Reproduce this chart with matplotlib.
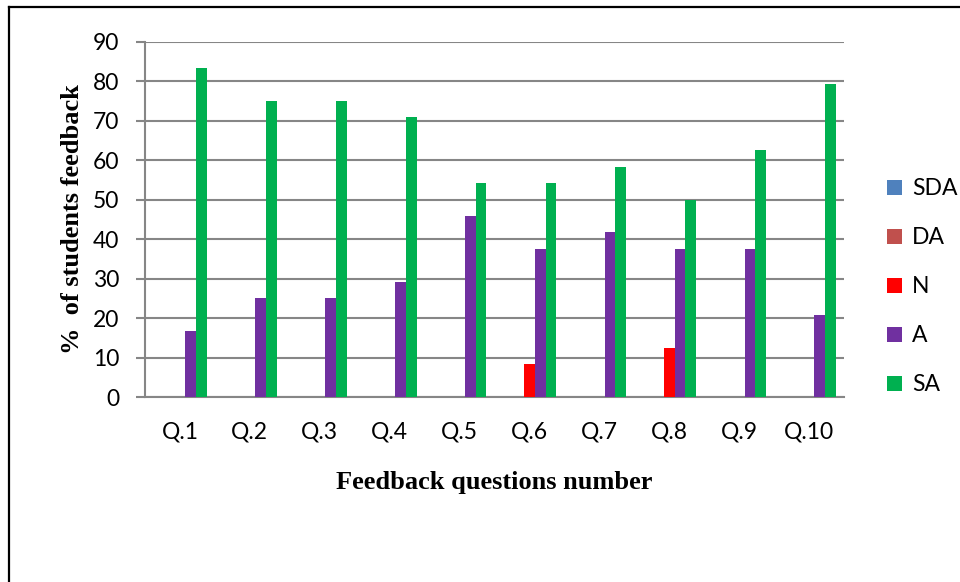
import numpy as np
import matplotlib.pyplot as plt
from matplotlib.lines import Line2D

questions = ['Q.1', 'Q.2', 'Q.3', 'Q.4', 'Q.5', 'Q.6', 'Q.7', 'Q.8', 'Q.9', 'Q.10']
series_names = ['SDA', 'DA', 'N', 'A', 'SA']
sda = [0, 0, 0, 0, 0, 0, 0, 0, 0, 0]
da = [0, 0, 0, 0, 0, 0, 0, 0, 0, 0]
neutral = [0, 0, 0, 0, 0, 8.3, 0, 12.5, 0, 0]
agree = [16.7, 25.0, 25.0, 29.2, 45.8, 37.5, 41.7, 37.5, 37.5, 20.8]
strongly_agree = [83.3, 75.0, 75.0, 70.8, 54.2, 54.2, 58.3, 50.0, 62.5, 79.2]
colors = ['#4F81BD', '#C0504D', '#FF0000', '#7030A0', '#00B050']

fig = plt.figure(figsize=(9.6, 5.82), dpi=100)
ax = fig.add_axes([145 / 960, 1 - 397 / 582, (844 - 145) / 960, (397 - 41.7) / 582])

x = np.arange(len(questions))
w = 1 / 6.5  # excel-style 150% gap
for i, (vals, name, c) in enumerate(zip([sda, da, neutral, agree, strongly_agree], series_names, colors)):
    ax.bar(x + (i - 2) * w, vals, width=w, color=c, label=name, zorder=3)

ax.set_xlim(-0.5, len(questions) - 0.5)
ax.set_ylim(0, 90)
ax.set_yticks(np.arange(0, 91, 10))
ax.set_xticks(x)
ax.set_xticklabels(questions)

grid_c = '#868686'
ax.yaxis.grid(True, color=grid_c, linewidth=1.5, zorder=0)
ax.set_axisbelow(True)
for s in ['top', 'right']:
    ax.spines[s].set_visible(False)
for s in ['left', 'bottom']:
    ax.spines[s].set_color(grid_c)
    ax.spines[s].set_linewidth(1.5)

tick_font = 'Lato'
fs = 16.5
ax.tick_params(axis='y', length=6.5, width=1.5, color=grid_c, pad=12, labelsize=fs)
ax.tick_params(axis='x', length=0, pad=18, labelsize=fs)
for lab in ax.get_xticklabels() + ax.get_yticklabels():
    lab.set_fontfamily(tick_font)

ax.set_xlabel('Feedback questions number', family='Liberation Serif', weight='bold',
              fontsize=19, labelpad=20)
ax.set_ylabel('%  of students feedback', family='Liberation Serif', weight='bold',
              fontsize=19, labelpad=6)

leg = ax.legend(loc='center left', bbox_to_anchor=(1.032, 0.31), frameon=False,
                handlelength=0.65, handleheight=0.65, handletextpad=0.45,
                labelspacing=1.22, prop={'family': tick_font, 'size': fs})

# frame lines around the figure
fig.add_artist(Line2D([9 / 960, 1], [1 - 7 / 582, 1 - 7 / 582], color='black', linewidth=1.6,
                      transform=fig.transFigure))
fig.add_artist(Line2D([9 / 960, 9 / 960], [0, 1 - 7 / 582], color='black', linewidth=1.6,
                      transform=fig.transFigure))

fig.savefig('out.png', dpi=100)
